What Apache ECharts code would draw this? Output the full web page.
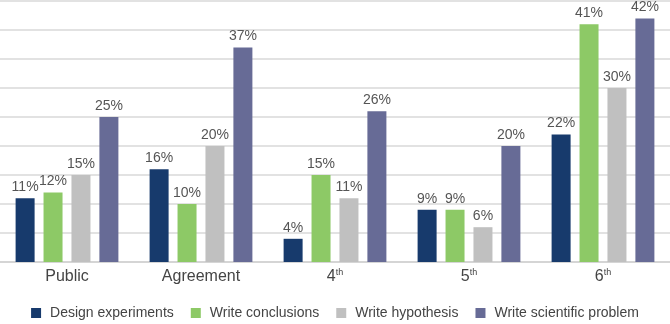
<!DOCTYPE html>
<html><head><meta charset="utf-8">
<script src="https://cdn.jsdelivr.net/npm/echarts@6/dist/echarts.min.js"></script>
<style>html,body{margin:0;padding:0;background:#fff}#c{width:670px;height:324px}</style>
</head><body><div id="c"></div>
<script>
const categories = ['Public', 'Agreement', '4th', '5th', '6th'];
const seriesNames = ['Design experiments', 'Write conclusions', 'Write hypothesis', 'Write scientific problem'];
const designExperiments = [11, 16, 4, 9, 22];
const writeConclusions = [12, 10, 15, 9, 41];
const writeHypothesis = [15, 20, 11, 6, 30];
const writeScientificProblem = [25, 37, 26, 20, 42];
const colors = ['#173a6c', '#8dc966', '#c0c0c0', '#676b96'];
const values = [designExperiments, writeConclusions, writeHypothesis, writeScientificProblem];

const chart = echarts.init(document.getElementById('c'), null, {renderer: 'canvas'});
chart.setOption({
  animation: false,
  textStyle: {fontFamily: 'Liberation Sans, Arial, sans-serif'},
  grid: {left: 0, right: 0, top: 1, bottom: 62, containLabel: false},
  legend: {
    top: 300, left: 'center',
    itemWidth: 10, itemHeight: 10, itemGap: 17,
    icon: 'rect',
    textStyle: {fontSize: 14, color: '#444', padding: [0, 0, 0, 4], lineHeight: 16},
    data: seriesNames
  },
  xAxis: {
    type: 'category', data: categories,
    axisLine: {show: true, lineStyle: {color: '#d0d0d0', width: 1.5}},
    axisTick: {show: false},
    axisLabel: {
      margin: 6, color: '#444',
      formatter: function (v) {
        const m = v.match(/^(\d+)(th)$/);
        if (m) return '{n|' + m[1] + '}{s|' + m[2] + '}';
        return '{n|' + v + '}';
      },
      rich: {
        n: {fontSize: 16, color: '#444', lineHeight: 18},
        s: {fontSize: 9, color: '#444', verticalAlign: 'top', lineHeight: 18, padding: [0, 0, 0, 0]}
      }
    }
  },
  yAxis: {
    type: 'value', min: 0, max: 45, interval: 5,
    axisLabel: {show: false}, axisLine: {show: false}, axisTick: {show: false},
    splitLine: {lineStyle: {color: '#d9d9d9', width: 1.5}}
  },
  series: seriesNames.map((n, i) => ({
    name: n, type: 'bar', data: values[i],
    itemStyle: {color: colors[i]},
    barWidth: 19, barGap: '47%',
    label: {show: true, position: 'top', distance: 4, formatter: '{c}%', fontSize: 14, color: '#555'}
  }))
});
</script></body></html>
